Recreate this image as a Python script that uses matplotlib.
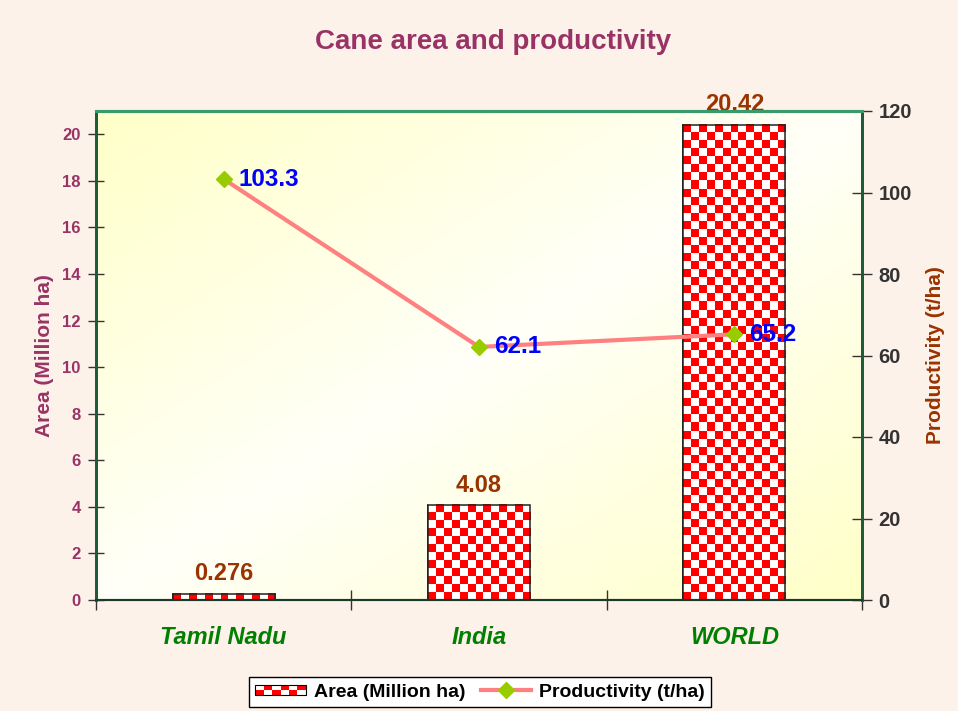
import numpy as np
import matplotlib
matplotlib.use("Agg")
import matplotlib.pyplot as plt
from matplotlib.lines import Line2D
from matplotlib.patches import Rectangle
from matplotlib.legend_handler import HandlerBase

plt.rcParams['font.family'] = ['Liberation Sans', 'DejaVu Sans']
plt.rcParams['font.weight'] = 'bold'

regions = ['Tamil Nadu', 'India', 'WORLD']
area = [0.276, 4.08, 20.42]            # Million ha
productivity = [103.3, 62.1, 65.2]     # t/ha
area_labels = ['0.276', '4.08', '20.42']
prod_labels = ['103.3', '62.1', '65.2']
area_ticks = list(range(0, 21, 2))
prod_ticks = list(range(0, 121, 20))

title_col = '#993366'
brown = '#993300'
checker_red = '#ff0000'


def checker(nx, ny):
    img = np.ones((ny, nx, 3))
    red = np.array(matplotlib.colors.to_rgb(checker_red))
    for j in range(ny):
        for i in range(nx):
            if (i + j) % 2 == 0:
                img[ny - 1 - j, i] = red
    return img


class CheckerHandler(HandlerBase):
    def create_artists(self, legend, orig_handle, xdescent, ydescent,
                       width, height, fontsize, trans):
        arts = []
        nx, ny = 6, 2
        h = height * 0.75
        y0 = -ydescent + (height - h) / 2
        cw, ch = width / nx, h / ny
        for j in range(ny):
            for i in range(nx):
                c = checker_red if (i + j) % 2 == 0 else 'white'
                arts.append(Rectangle((-xdescent + i * cw, y0 + j * ch), cw, ch,
                                      facecolor=c, edgecolor='none', transform=trans))
        arts.append(Rectangle((-xdescent, y0), width, h, facecolor='none',
                              edgecolor='black', lw=0.8, transform=trans))
        return arts


fig = plt.figure(figsize=(9.58, 7.11), dpi=100, facecolor='#fdf2ea')
ax = fig.add_axes([96 / 958, 111 / 711, 766 / 958, 489 / 711])
ax2 = ax.twinx()

# gradient background of the plot area: yellow at top-left / bottom-right
gx, gy = np.meshgrid(np.linspace(0, 1, 200), np.linspace(0, 1, 200))
s = np.abs((gx + gy) / 2 - 0.5) * 2
yel = np.array(matplotlib.colors.to_rgb('#ffffc8'))
wht = np.array(matplotlib.colors.to_rgb('#fffff8'))
grad = wht[None, None, :] * (1 - s[..., None]) + yel[None, None, :] * s[..., None]
ax.imshow(grad, extent=[0, 1, 0, 1], transform=ax.transAxes, aspect='auto',
          zorder=0, origin='upper')
ax.patch.set_visible(False)

x = np.arange(len(regions))
ax.set_xlim(-0.5, 2.5)
ax.set_ylim(0, 21)
ax2.set_ylim(0, 120)

bars = ax.bar(x, area, width=0.4, facecolor='white', edgecolor='black',
              lw=1.2, zorder=2)
px_x = ax.bbox.width / 3.0
px_y = ax.bbox.height / 21.0
for b in bars:
    w, h = b.get_width(), b.get_height()
    nx = max(1, int(round(w * px_x / 8)))
    ny = max(1, int(round(h * px_y / 8)))
    ax.imshow(checker(nx, ny), extent=[b.get_x(), b.get_x() + w, 0, h],
              aspect='auto', interpolation='nearest', zorder=2.5)
    ax.add_patch(Rectangle((b.get_x(), 0), w, h, facecolor='none',
                           edgecolor='#222222', lw=1.1, zorder=3))
ax.set_xlim(-0.5, 2.5)
ax.set_ylim(0, 21)

for xi, v, lab in zip(x, area, area_labels):
    ax.annotate(lab, (xi, v), xytext=(0, 6), textcoords='offset points',
                ha='center', va='bottom', color=brown, fontsize=17,
                fontweight='bold', zorder=5)

ax2.plot(x, productivity, color='#ff8080', lw=3, marker='D', markersize=8,
         markerfacecolor='#99cc00', markeredgecolor='#99cc00', zorder=4)
for xi, v, lab in zip(x, productivity, prod_labels):
    ax2.annotate(lab, (xi, v), xytext=(11, 0), textcoords='offset points',
                 ha='left', va='center', color='#0000ff', fontsize=17.5,
                 fontweight='bold', zorder=5)

# axes styling
ax.set_xticks(x)
ax.set_xticklabels(regions, fontsize=17, fontstyle='italic', color='#008000',
                   fontweight='bold')
ax.set_xticks([-0.5, 0.5, 1.5, 2.5], minor=True)
ax.tick_params(axis='x', which='major', length=0, pad=19)
ax.tick_params(axis='x', which='minor', length=14, direction='inout',
               color='#333333', width=1)
ax.set_yticks(area_ticks)
ax.tick_params(axis='y', labelsize=12, labelcolor=title_col, direction='inout',
               length=12, color='#333333', width=1, pad=5)
ax.set_ylabel('Area (Million ha)', color=title_col, fontsize=15,
              fontweight='bold', labelpad=6)

ax2.set_yticks(prod_ticks)
ax2.tick_params(axis='y', labelsize=14.5, labelcolor='#333333', direction='inout',
                length=14, color='#333333', width=1, pad=5)
ax2.set_ylabel('Productivity (t/ha)', color=brown, fontsize=15,
               fontweight='bold', labelpad=10)

for a in (ax, ax2):
    a.spines['top'].set_color('#3a9a6a')
    a.spines['top'].set_linewidth(2.2)
    a.spines['left'].set_color('#1f5a3a')
    a.spines['left'].set_linewidth(2)
    a.spines['right'].set_color('#1f5a3a')
    a.spines['right'].set_linewidth(2)
    a.spines['bottom'].set_color('#1a3a2a')
    a.spines['bottom'].set_linewidth(1.5)

fig.text(493 / 958, 1 - 42 / 711, 'Cane area and productivity', ha='center',
         va='center', color=title_col, fontsize=20, fontweight='bold')

h_bar = Rectangle((0, 0), 1, 1)
h_line = Line2D([], [], color='#ff8080', lw=3, marker='D', markersize=8,
                markerfacecolor='#99cc00', markeredgecolor='#99cc00')
leg = fig.legend([h_bar, h_line], ['Area (Million ha)', 'Productivity (t/ha)'],
                 handler_map={Rectangle: CheckerHandler()},
                 loc='center', bbox_to_anchor=(480 / 958, 1 - 692 / 711),
                 ncol=2, fancybox=False, framealpha=1, facecolor='white',
                 edgecolor='black', prop={'size': 14, 'weight': 'bold'},
                 handlelength=2.6, handletextpad=0.4, columnspacing=0.8,
                 borderpad=0.3)
leg.get_frame().set_linewidth(1)

fig.savefig('out.png', dpi=100, facecolor=fig.get_facecolor())
